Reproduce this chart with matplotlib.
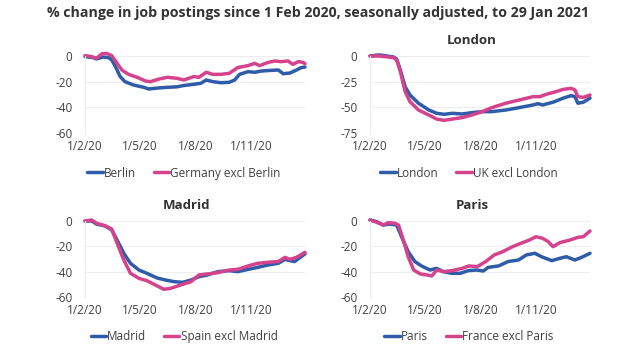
import numpy as np
import matplotlib.pyplot as plt

plt.rcParams['font.family'] = ['Open Sans', 'DejaVu Sans']

BLUE = '#2E5CA8'
PINK = '#D5438D'

# days since 1 Feb 2020
berlin_days = [0, 14, 19, 30, 39, 44, 50, 58, 66, 80, 97, 105, 119, 136, 152, 163, 180, 191, 200, 211,
               224, 238, 247, 255, 269, 280, 291, 307, 319, 327, 338, 349, 357, 363]
berlin_vals = [-0.5, -1.3, -2.3, -0.8, -1.3, -3, -8, -16, -20, -22.6, -24.4, -25.7, -25, -24.4, -24, -23,
               -22, -21.3, -18.7, -20, -20.8, -20.5, -18.7, -14.3, -12.2, -12.7, -11.7, -11.2, -10.9,
               -13.8, -13.3, -10.9, -9, -8.6]
germany_days = [0, 11, 19, 28, 36, 44, 53, 61, 72, 86, 100, 108, 122, 136, 152, 163, 180, 188, 200, 211,
                224, 238, 252, 269, 280, 288, 302, 313, 324, 335, 343, 352, 360, 363]
germany_vals = [0.3, -0.5, -1.8, 1.8, 2, 0.3, -5.7, -11, -14.3, -16.6, -19.5, -20, -18, -16.6, -17.4,
                -18.7, -16, -16.6, -12.7, -14.3, -14.3, -13.5, -9, -7.5, -5.7, -7.5, -5, -3.9, -4.4,
                -3.9, -6.5, -4.4, -5, -6]

london_days = [0, 14, 25, 39, 44, 50, 58, 66, 80, 97, 110, 122, 136, 152, 168, 185, 201, 224, 246, 269,
               277, 285, 302, 319, 332, 338, 343, 352, 363]
london_vals = [0, 1, 0.3, -1, -3, -13.6, -30, -38, -46, -52.6, -55.8, -56.8, -55.8, -56.5, -55.2, -54.2,
               -54.2, -52.6, -50.3, -47.7, -46.4, -47.7, -45, -41, -38.6, -39.6, -46, -45, -41]
uk_days = [0, 14, 25, 39, 44, 50, 58, 66, 80, 97, 110, 122, 136, 152, 168, 185, 201, 224, 246, 269,
           280, 291, 307, 319, 332, 338, 343, 352, 363]
uk_vals = [0, 0, -0.6, -1.6, -4, -15, -34.7, -44.5, -52.6, -57.5, -61.4, -62.7, -61.4, -60, -57.5, -54.2,
           -50.3, -46, -42.9, -39.6, -39.6, -37.3, -34.7, -32.5, -31.5, -33, -39.6, -40.3, -38]

madrid_days = [0, 11, 19, 33, 44, 53, 64, 75, 89, 102, 119, 133, 147, 161, 175, 188, 202, 219, 238, 252,
               269, 285, 302, 319, 330, 338, 346, 357, 363]
madrid_vals = [0, 0, -2.4, -3.9, -7, -15, -25.5, -33.4, -38.7, -41.3, -45, -46.6, -47.9, -48.4, -46.6,
               -44, -42.6, -40, -39.2, -40, -38.2, -36.6, -34.7, -33.4, -30.3, -31.3, -32, -28, -26]
spain_days = [0, 11, 19, 33, 44, 53, 64, 75, 89, 102, 116, 130, 141, 158, 175, 188, 202, 219, 238, 252,
              269, 285, 302, 319, 330, 338, 349, 363]
spain_vals = [0, 0.8, -1.8, -3.7, -6.3, -17.6, -30.8, -41.3, -45.3, -47.1, -50.5, -53.9, -53.2, -50.5,
              -47.9, -42.6, -41.8, -40.8, -38.7, -38.2, -35.5, -33.4, -32.6, -32, -28.7, -30.3, -28.7, -24.7]

paris_days = [0, 11, 22, 33, 44, 52, 63, 74, 85, 99, 110, 121, 135, 149, 162, 176, 187, 195, 212, 228,
              245, 258, 272, 283, 300, 313, 324, 338, 349, 363]
paris_vals = [0.8, -0.5, -3.2, -2.4, -3.2, -12.4, -24.2, -32, -35.5, -38.7, -37.4, -40, -41.3, -41.3,
              -39.2, -38.7, -39.5, -36.6, -35.5, -32, -30.8, -26.8, -25.5, -28.2, -31.3, -29.5, -28.2,
              -30.8, -28.7, -25.5]
france_days = [0, 11, 22, 30, 41, 47, 55, 63, 72, 83, 94, 102, 110, 121, 135, 152, 163, 177, 191, 205,
               219, 235, 249, 263, 274, 285, 294, 302, 313, 330, 343, 352, 363]
france_vals = [0.8, -1, -3.2, -1.3, -1.8, -3.2, -15, -28.2, -38.7, -41.8, -42.6, -43.4, -38.7, -40,
               -39.2, -37.4, -35.5, -36, -32, -26.8, -24.2, -20.3, -17.6, -15, -12.4, -13.7, -16.3,
               -20.3, -17.1, -15, -12.9, -12.4, -7.9]

start = np.datetime64('2020-02-01')
end = np.datetime64('2021-01-29')
tick_dates = ['2020-02-01', '2020-05-01', '2020-08-01', '2020-11-01']
tick_labels = ['1/2/20', '1/5/20', '1/8/20', '1/11/20']

panels = [
    # title, series a, series b, yticks, axes rect, title position
    ('', (berlin_days, berlin_vals, 'Berlin'), (germany_days, germany_vals, 'Germany excl Berlin'),
     [0, -20, -40, -60], [85 / 640, 221 / 354, 220 / 640, 77 / 354], None),
    ('London', (london_days, london_vals, 'London'), (uk_days, uk_vals, 'UK excl London'),
     [0, -25, -50, -75], [370 / 640, 221 / 354, 220 / 640, 77 / 354], (472 / 640, 1 - 40 / 354)),
    ('Madrid', (madrid_days, madrid_vals, 'Madrid'), (spain_days, spain_vals, 'Spain excl Madrid'),
     [0, -20, -40, -60], [85 / 640, 57 / 354, 220 / 640, 76 / 354], (187 / 640, 1 - 205 / 354)),
    ('Paris', (paris_days, paris_vals, 'Paris'), (france_days, france_vals, 'France excl Paris'),
     [0, -20, -40, -60], [370 / 640, 57 / 354, 220 / 640, 76 / 354], (472 / 640, 1 - 205 / 354)),
]

fig = plt.figure(figsize=(6.4, 3.54), dpi=100)

fig.text(318 / 640, 1 - 13 / 354, '% change in job postings since 1 Feb 2020, seasonally adjusted, to 29 Jan 2021',
         ha='center', va='center', fontsize=10.2, fontweight='bold', color='#333333')

for title, a, b, yticks, rect, title_xy in panels:
    ax = fig.add_axes(rect)
    for days, vals, name, color in [(a[0], a[1], a[2], BLUE), (b[0], b[1], b[2], PINK)]:
        dates = start + np.array(days).astype('timedelta64[D]')
        ax.plot(dates, vals, color=color, lw=2.5, label=name, clip_on=False, solid_capstyle='round')
    ax.set_xlim(start, end)
    ax.set_ylim(min(yticks), max(yticks))
    ax.set_yticks(yticks)
    ax.set_yticklabels([str(t) for t in yticks])
    ax.set_xticks(np.array(tick_dates, dtype='datetime64[D]'))
    ax.set_xticklabels(tick_labels)
    ax.grid(axis='y', color='#eeeeee', lw=0.8)
    ax.set_axisbelow(True)
    for s in ['top', 'right', 'bottom']:
        ax.spines[s].set_visible(False)
    ax.spines['left'].set_color('#eeeeee')
    ax.tick_params(length=0, labelsize=8.5, colors='#404040', pad=5)
    ax.tick_params(axis='y', pad=9)
    ax.legend(loc='center', bbox_to_anchor=(0.45, -0.52), ncol=2, frameon=False,
              fontsize=8.5, handlelength=1.3, handletextpad=0.1, columnspacing=1.5,
              labelcolor='#404040')
    if title_xy:
        fig.text(title_xy[0], title_xy[1], title, ha='center', va='center', fontsize=9.5,
                 fontweight='bold', color='#333333')

fig.savefig('out.png', dpi=100)
